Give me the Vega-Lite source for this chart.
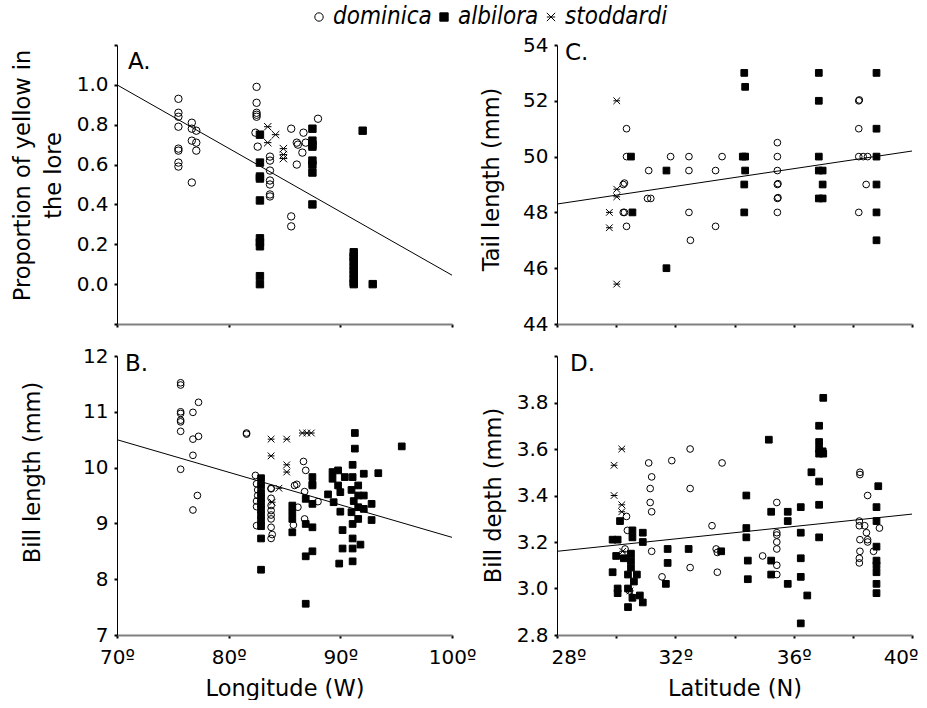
{
  "$schema": "https://vega.github.io/schema/vega-lite/v6.json",
  "padding": {"left": 10, "top": 5, "right": 0, "bottom": 0},
  "bounds": "flush",
  "columns": 2,
  "spacing": {"row": 32, "column": 105},
  "datasets": {
    "pts": [
      {"p":"A","x":75.5,"y":0.93,"s":"dominica"},{"p":"A","x":75.5,"y":0.86,"s":"dominica"},{"p":"A","x":75.5,"y":0.84,"s":"dominica"},{"p":"A","x":75.5,"y":0.79,"s":"dominica"},
      {"p":"A","x":75.5,"y":0.68,"s":"dominica"},{"p":"A","x":75.5,"y":0.67,"s":"dominica"},{"p":"A","x":75.5,"y":0.61,"s":"dominica"},{"p":"A","x":75.5,"y":0.59,"s":"dominica"},
      {"p":"A","x":76.7,"y":0.81,"s":"dominica"},{"p":"A","x":76.7,"y":0.78,"s":"dominica"},{"p":"A","x":76.7,"y":0.72,"s":"dominica"},{"p":"A","x":76.7,"y":0.51,"s":"dominica"},
      {"p":"A","x":77.1,"y":0.77,"s":"dominica"},{"p":"A","x":77.1,"y":0.71,"s":"dominica"},{"p":"A","x":77.1,"y":0.67,"s":"dominica"},
      {"p":"A","x":82.5,"y":0.99,"s":"dominica"},{"p":"A","x":82.5,"y":0.91,"s":"dominica"},{"p":"A","x":82.5,"y":0.86,"s":"dominica"},{"p":"A","x":82.5,"y":0.85,"s":"dominica"},
      {"p":"A","x":82.5,"y":0.84,"s":"dominica"},{"p":"A","x":82.4,"y":0.76,"s":"dominica"},{"p":"A","x":82.6,"y":0.69,"s":"dominica"},
      {"p":"A","x":83.7,"y":0.64,"s":"dominica"},{"p":"A","x":83.7,"y":0.62,"s":"dominica"},{"p":"A","x":83.7,"y":0.57,"s":"dominica"},{"p":"A","x":83.7,"y":0.52,"s":"dominica"},
      {"p":"A","x":83.7,"y":0.5,"s":"dominica"},{"p":"A","x":83.7,"y":0.45,"s":"dominica"},{"p":"A","x":83.7,"y":0.44,"s":"dominica"},
      {"p":"A","x":85.6,"y":0.78,"s":"dominica"},{"p":"A","x":85.6,"y":0.34,"s":"dominica"},{"p":"A","x":85.6,"y":0.29,"s":"dominica"},
      {"p":"A","x":86.1,"y":0.71,"s":"dominica"},{"p":"A","x":86.1,"y":0.6,"s":"dominica"},{"p":"A","x":86.2,"y":0.7,"s":"dominica"},
      {"p":"A","x":86.7,"y":0.76,"s":"dominica"},{"p":"A","x":86.6,"y":0.66,"s":"dominica"},{"p":"A","x":86.9,"y":0.71,"s":"dominica"},{"p":"A","x":88.0,"y":0.83,"s":"dominica"},
      {"p":"A","x":82.8,"y":0.75,"s":"albilora"},{"p":"A","x":82.8,"y":0.61,"s":"albilora"},{"p":"A","x":82.8,"y":0.54,"s":"albilora"},{"p":"A","x":82.8,"y":0.53,"s":"albilora"},
      {"p":"A","x":82.8,"y":0.42,"s":"albilora"},{"p":"A","x":82.8,"y":0.23,"s":"albilora"},{"p":"A","x":82.8,"y":0.21,"s":"albilora"},{"p":"A","x":82.8,"y":0.19,"s":"albilora"},
      {"p":"A","x":82.8,"y":0.04,"s":"albilora"},{"p":"A","x":82.8,"y":0.0,"s":"albilora"},
      {"p":"A","x":87.5,"y":0.78,"s":"albilora"},{"p":"A","x":87.5,"y":0.72,"s":"albilora"},{"p":"A","x":87.5,"y":0.7,"s":"albilora"},{"p":"A","x":87.5,"y":0.69,"s":"albilora"},
      {"p":"A","x":87.5,"y":0.62,"s":"albilora"},{"p":"A","x":87.5,"y":0.6,"s":"albilora"},{"p":"A","x":87.5,"y":0.56,"s":"albilora"},{"p":"A","x":87.5,"y":0.4,"s":"albilora"},
      {"p":"A","x":92.0,"y":0.77,"s":"albilora"},
      {"p":"A","x":91.2,"y":0.16,"s":"albilora"},{"p":"A","x":91.2,"y":0.14,"s":"albilora"},{"p":"A","x":91.2,"y":0.13,"s":"albilora"},{"p":"A","x":91.2,"y":0.11,"s":"albilora"},
      {"p":"A","x":91.2,"y":0.09,"s":"albilora"},{"p":"A","x":91.2,"y":0.07,"s":"albilora"},{"p":"A","x":91.2,"y":0.05,"s":"albilora"},{"p":"A","x":91.2,"y":0.03,"s":"albilora"},
      {"p":"A","x":91.2,"y":0.01,"s":"albilora"},{"p":"A","x":91.2,"y":0.0,"s":"albilora"},{"p":"A","x":92.9,"y":0.0,"s":"albilora"},
      {"p":"A","x":83.5,"y":0.79,"s":"stoddardi"},{"p":"A","x":84.2,"y":0.75,"s":"stoddardi"},{"p":"A","x":83.5,"y":0.71,"s":"stoddardi"},
      {"p":"A","x":84.9,"y":0.68,"s":"stoddardi"},{"p":"A","x":84.9,"y":0.65,"s":"stoddardi"},{"p":"A","x":84.9,"y":0.63,"s":"stoddardi"},

      {"p":"B","x":75.7,"y":11.52,"s":"dominica"},{"p":"B","x":75.7,"y":11.48,"s":"dominica"},{"p":"B","x":75.7,"y":11.0,"s":"dominica"},{"p":"B","x":75.7,"y":10.97,"s":"dominica"},
      {"p":"B","x":75.7,"y":10.85,"s":"dominica"},{"p":"B","x":75.7,"y":10.82,"s":"dominica"},{"p":"B","x":75.7,"y":10.65,"s":"dominica"},{"p":"B","x":75.7,"y":9.97,"s":"dominica"},
      {"p":"B","x":76.8,"y":10.99,"s":"dominica"},{"p":"B","x":76.8,"y":10.51,"s":"dominica"},{"p":"B","x":76.8,"y":10.22,"s":"dominica"},{"p":"B","x":76.8,"y":9.24,"s":"dominica"},
      {"p":"B","x":77.3,"y":11.17,"s":"dominica"},{"p":"B","x":77.3,"y":10.56,"s":"dominica"},{"p":"B","x":77.2,"y":9.5,"s":"dominica"},
      {"p":"B","x":81.6,"y":10.62,"s":"dominica"},{"p":"B","x":81.6,"y":10.6,"s":"dominica"},
      {"p":"B","x":82.4,"y":9.86,"s":"dominica"},{"p":"B","x":82.5,"y":9.71,"s":"dominica"},{"p":"B","x":82.6,"y":9.6,"s":"dominica"},{"p":"B","x":82.6,"y":9.5,"s":"dominica"},
      {"p":"B","x":82.5,"y":9.4,"s":"dominica"},{"p":"B","x":82.5,"y":9.3,"s":"dominica"},{"p":"B","x":82.5,"y":8.96,"s":"dominica"},
      {"p":"B","x":83.8,"y":9.63,"s":"dominica"},{"p":"B","x":83.8,"y":9.45,"s":"dominica"},{"p":"B","x":83.8,"y":9.32,"s":"dominica"},{"p":"B","x":83.8,"y":9.23,"s":"dominica"},
      {"p":"B","x":83.8,"y":9.15,"s":"dominica"},{"p":"B","x":83.8,"y":9.08,"s":"dominica"},{"p":"B","x":83.8,"y":8.93,"s":"dominica"},{"p":"B","x":83.9,"y":8.8,"s":"dominica"},
      {"p":"B","x":83.8,"y":8.73,"s":"dominica"},{"p":"B","x":83.8,"y":9.62,"s":"dominica"},
      {"p":"B","x":85.8,"y":8.97,"s":"dominica"},{"p":"B","x":85.9,"y":9.68,"s":"dominica"},{"p":"B","x":86.1,"y":9.7,"s":"dominica"},{"p":"B","x":86.2,"y":9.29,"s":"dominica"},
      {"p":"B","x":86.7,"y":10.11,"s":"dominica"},{"p":"B","x":86.9,"y":9.95,"s":"dominica"},{"p":"B","x":86.8,"y":9.57,"s":"dominica"},{"p":"B","x":86.8,"y":9.08,"s":"dominica"},
      {"p":"B","x":88.0,"y":9.39,"s":"dominica"},
      {"p":"B","x":83.8,"y":10.51,"s":"stoddardi"},{"p":"B","x":83.8,"y":10.21,"s":"stoddardi"},{"p":"B","x":85.2,"y":10.51,"s":"stoddardi"},{"p":"B","x":85.2,"y":10.05,"s":"stoddardi"},
      {"p":"B","x":85.2,"y":9.92,"s":"stoddardi"},{"p":"B","x":84.5,"y":9.63,"s":"stoddardi"},{"p":"B","x":83.9,"y":9.38,"s":"stoddardi"},
      {"p":"B","x":86.6,"y":10.62,"s":"stoddardi"},{"p":"B","x":87.0,"y":10.62,"s":"stoddardi"},{"p":"B","x":87.4,"y":10.62,"s":"stoddardi"},
      {"p":"B","x":82.9,"y":9.81,"s":"albilora"},{"p":"B","x":82.9,"y":9.68,"s":"albilora"},{"p":"B","x":82.9,"y":9.55,"s":"albilora"},{"p":"B","x":82.9,"y":9.45,"s":"albilora"},
      {"p":"B","x":82.9,"y":9.35,"s":"albilora"},{"p":"B","x":82.9,"y":9.25,"s":"albilora"},{"p":"B","x":82.9,"y":9.15,"s":"albilora"},{"p":"B","x":82.9,"y":9.05,"s":"albilora"},
      {"p":"B","x":82.9,"y":8.95,"s":"albilora"},{"p":"B","x":82.9,"y":8.73,"s":"albilora"},{"p":"B","x":82.9,"y":8.17,"s":"albilora"},
      {"p":"B","x":85.7,"y":9.32,"s":"albilora"},{"p":"B","x":85.7,"y":9.08,"s":"albilora"},{"p":"B","x":85.7,"y":8.84,"s":"albilora"},{"p":"B","x":85.7,"y":9.2,"s":"albilora"},
      {"p":"B","x":86.9,"y":9.44,"s":"albilora"},{"p":"B","x":86.9,"y":8.99,"s":"albilora"},{"p":"B","x":86.9,"y":8.41,"s":"albilora"},{"p":"B","x":86.9,"y":7.56,"s":"albilora"},
      {"p":"B","x":87.5,"y":9.83,"s":"albilora"},{"p":"B","x":87.5,"y":9.68,"s":"albilora"},{"p":"B","x":87.5,"y":9.35,"s":"albilora"},{"p":"B","x":87.5,"y":8.93,"s":"albilora"},
      {"p":"B","x":87.5,"y":8.5,"s":"albilora"},{"p":"B","x":87.5,"y":9.7,"s":"albilora"},{"p":"B","x":88.9,"y":9.52,"s":"albilora"},
      {"p":"B","x":89.3,"y":9.92,"s":"albilora"},{"p":"B","x":89.3,"y":9.8,"s":"albilora"},{"p":"B","x":89.4,"y":9.38,"s":"albilora"},
      {"p":"B","x":89.8,"y":9.95,"s":"albilora"},{"p":"B","x":89.8,"y":9.68,"s":"albilora"},{"p":"B","x":90.0,"y":9.56,"s":"albilora"},
      {"p":"B","x":90.0,"y":9.21,"s":"albilora"},{"p":"B","x":90.2,"y":8.88,"s":"albilora"},{"p":"B","x":90.2,"y":8.55,"s":"albilora"},{"p":"B","x":89.9,"y":8.28,"s":"albilora"},
      {"p":"B","x":90.4,"y":9.83,"s":"albilora"},
      {"p":"B","x":91.1,"y":10.05,"s":"albilora"},{"p":"B","x":91.1,"y":9.83,"s":"albilora"},{"p":"B","x":91.1,"y":8.73,"s":"albilora"},{"p":"B","x":91.1,"y":8.55,"s":"albilora"},
      {"p":"B","x":91.1,"y":8.32,"s":"albilora"},{"p":"B","x":91.1,"y":8.99,"s":"albilora"},{"p":"B","x":91.0,"y":9.6,"s":"albilora"},{"p":"B","x":91.2,"y":9.4,"s":"albilora"},
      {"p":"B","x":91.0,"y":9.2,"s":"albilora"},{"p":"B","x":91.3,"y":10.62,"s":"albilora"},{"p":"B","x":91.3,"y":10.34,"s":"albilora"},
      {"p":"B","x":91.6,"y":9.68,"s":"albilora"},{"p":"B","x":91.6,"y":9.5,"s":"albilora"},{"p":"B","x":91.6,"y":9.29,"s":"albilora"},{"p":"B","x":91.6,"y":9.08,"s":"albilora"},
      {"p":"B","x":91.8,"y":8.62,"s":"albilora"},
      {"p":"B","x":92.1,"y":9.89,"s":"albilora"},{"p":"B","x":92.1,"y":9.5,"s":"albilora"},{"p":"B","x":92.1,"y":9.26,"s":"albilora"},
      {"p":"B","x":92.8,"y":9.35,"s":"albilora"},{"p":"B","x":92.8,"y":9.06,"s":"albilora"},{"p":"B","x":93.4,"y":9.9,"s":"albilora"},{"p":"B","x":95.5,"y":10.38,"s":"albilora"},

      {"p":"C","x":30.35,"y":51,"s":"dominica"},{"p":"C","x":30.35,"y":50,"s":"dominica"},{"p":"C","x":30.24,"y":49,"s":"dominica"},{"p":"C","x":30.28,"y":49.05,"s":"dominica"},
      {"p":"C","x":30.24,"y":48,"s":"dominica"},{"p":"C","x":30.28,"y":48,"s":"dominica"},{"p":"C","x":30.35,"y":47.5,"s":"dominica"},
      {"p":"C","x":31.1,"y":49.5,"s":"dominica"},{"p":"C","x":31.06,"y":48.5,"s":"dominica"},{"p":"C","x":31.17,"y":48.5,"s":"dominica"},{"p":"C","x":31.84,"y":50,"s":"dominica"},
      {"p":"C","x":32.46,"y":50,"s":"dominica"},{"p":"C","x":32.46,"y":49.5,"s":"dominica"},{"p":"C","x":32.46,"y":48,"s":"dominica"},{"p":"C","x":32.51,"y":47,"s":"dominica"},
      {"p":"C","x":33.36,"y":49.5,"s":"dominica"},{"p":"C","x":33.58,"y":50,"s":"dominica"},{"p":"C","x":33.36,"y":47.5,"s":"dominica"},
      {"p":"C","x":35.45,"y":50.5,"s":"dominica"},{"p":"C","x":35.45,"y":50,"s":"dominica"},{"p":"C","x":35.45,"y":49.5,"s":"dominica"},{"p":"C","x":35.45,"y":49,"s":"dominica"},
      {"p":"C","x":35.47,"y":49.03,"s":"dominica"},{"p":"C","x":35.45,"y":48.5,"s":"dominica"},{"p":"C","x":35.47,"y":48.53,"s":"dominica"},{"p":"C","x":35.45,"y":48,"s":"dominica"},
      {"p":"C","x":38.2,"y":52,"s":"dominica"},{"p":"C","x":38.22,"y":52.03,"s":"dominica"},{"p":"C","x":38.2,"y":51,"s":"dominica"},{"p":"C","x":38.2,"y":50,"s":"dominica"},
      {"p":"C","x":38.35,"y":50,"s":"dominica"},{"p":"C","x":38.5,"y":50,"s":"dominica"},{"p":"C","x":38.45,"y":49,"s":"dominica"},{"p":"C","x":38.2,"y":48,"s":"dominica"},
      {"p":"C","x":30.5,"y":50,"s":"albilora"},{"p":"C","x":30.55,"y":48,"s":"albilora"},{"p":"C","x":31.7,"y":49.5,"s":"albilora"},{"p":"C","x":31.7,"y":46,"s":"albilora"},
      {"p":"C","x":34.33,"y":53,"s":"albilora"},{"p":"C","x":34.36,"y":52.5,"s":"albilora"},{"p":"C","x":34.28,"y":50,"s":"albilora"},{"p":"C","x":34.36,"y":50,"s":"albilora"},
      {"p":"C","x":34.36,"y":49.5,"s":"albilora"},{"p":"C","x":34.33,"y":49,"s":"albilora"},{"p":"C","x":34.33,"y":48,"s":"albilora"},
      {"p":"C","x":36.85,"y":53,"s":"albilora"},{"p":"C","x":36.85,"y":52,"s":"albilora"},{"p":"C","x":36.85,"y":50,"s":"albilora"},{"p":"C","x":36.85,"y":49.5,"s":"albilora"},
      {"p":"C","x":36.98,"y":49.5,"s":"albilora"},{"p":"C","x":36.98,"y":49,"s":"albilora"},{"p":"C","x":36.85,"y":48.5,"s":"albilora"},{"p":"C","x":36.98,"y":48.5,"s":"albilora"},
      {"p":"C","x":38.8,"y":53,"s":"albilora"},{"p":"C","x":38.8,"y":51,"s":"albilora"},{"p":"C","x":38.8,"y":50,"s":"albilora"},{"p":"C","x":38.8,"y":49,"s":"albilora"},
      {"p":"C","x":38.8,"y":48,"s":"albilora"},{"p":"C","x":38.8,"y":47,"s":"albilora"},
      {"p":"C","x":30.02,"y":52,"s":"stoddardi"},{"p":"C","x":30.02,"y":48.83,"s":"stoddardi"},{"p":"C","x":30.02,"y":48.56,"s":"stoddardi"},
      {"p":"C","x":29.77,"y":48,"s":"stoddardi"},{"p":"C","x":29.77,"y":47.45,"s":"stoddardi"},{"p":"C","x":30.02,"y":45.43,"s":"stoddardi"},

      {"p":"D","x":30.35,"y":3.31,"s":"dominica"},{"p":"D","x":30.38,"y":3.25,"s":"dominica"},{"p":"D","x":30.3,"y":3.17,"s":"dominica"},{"p":"D","x":30.45,"y":2.99,"s":"dominica"},
      {"p":"D","x":31.1,"y":3.54,"s":"dominica"},{"p":"D","x":31.2,"y":3.48,"s":"dominica"},{"p":"D","x":31.15,"y":3.43,"s":"dominica"},{"p":"D","x":31.15,"y":3.37,"s":"dominica"},
      {"p":"D","x":31.2,"y":3.33,"s":"dominica"},{"p":"D","x":31.2,"y":3.16,"s":"dominica"},{"p":"D","x":31.55,"y":3.05,"s":"dominica"},{"p":"D","x":31.88,"y":3.55,"s":"dominica"},
      {"p":"D","x":32.5,"y":3.6,"s":"dominica"},{"p":"D","x":32.5,"y":3.43,"s":"dominica"},{"p":"D","x":32.5,"y":3.09,"s":"dominica"},{"p":"D","x":33.24,"y":3.27,"s":"dominica"},
      {"p":"D","x":33.38,"y":3.17,"s":"dominica"},{"p":"D","x":33.42,"y":3.155,"s":"dominica"},{"p":"D","x":33.42,"y":3.07,"s":"dominica"},{"p":"D","x":33.58,"y":3.54,"s":"dominica"},
      {"p":"D","x":34.95,"y":3.14,"s":"dominica"},{"p":"D","x":35.43,"y":3.37,"s":"dominica"},{"p":"D","x":35.43,"y":3.24,"s":"dominica"},{"p":"D","x":35.43,"y":3.23,"s":"dominica"},
      {"p":"D","x":35.43,"y":3.2,"s":"dominica"},{"p":"D","x":35.43,"y":3.17,"s":"dominica"},{"p":"D","x":35.43,"y":3.1,"s":"dominica"},{"p":"D","x":35.43,"y":3.06,"s":"dominica"},
      {"p":"D","x":38.24,"y":3.5,"s":"dominica"},{"p":"D","x":38.24,"y":3.49,"s":"dominica"},{"p":"D","x":38.5,"y":3.4,"s":"dominica"},{"p":"D","x":38.22,"y":3.29,"s":"dominica"},
      {"p":"D","x":38.22,"y":3.27,"s":"dominica"},{"p":"D","x":38.4,"y":3.27,"s":"dominica"},{"p":"D","x":38.46,"y":3.24,"s":"dominica"},{"p":"D","x":38.5,"y":3.21,"s":"dominica"},
      {"p":"D","x":38.5,"y":3.2,"s":"dominica"},{"p":"D","x":38.24,"y":3.21,"s":"dominica"},{"p":"D","x":38.9,"y":3.26,"s":"dominica"},{"p":"D","x":38.24,"y":3.16,"s":"dominica"},
      {"p":"D","x":38.22,"y":3.13,"s":"dominica"},{"p":"D","x":38.22,"y":3.11,"s":"dominica"},{"p":"D","x":38.7,"y":3.16,"s":"dominica"},
      {"p":"D","x":29.88,"y":3.07,"s":"albilora"},{"p":"D","x":29.88,"y":3.21,"s":"albilora"},{"p":"D","x":30.05,"y":3.21,"s":"albilora"},{"p":"D","x":30.05,"y":3.0,"s":"albilora"},
      {"p":"D","x":30.05,"y":2.98,"s":"albilora"},{"p":"D","x":30.13,"y":3.29,"s":"albilora"},{"p":"D","x":30.0,"y":3.14,"s":"albilora"},{"p":"D","x":30.4,"y":3.06,"s":"albilora"},
      {"p":"D","x":30.5,"y":3.15,"s":"albilora"},{"p":"D","x":30.55,"y":3.25,"s":"albilora"},{"p":"D","x":30.55,"y":3.22,"s":"albilora"},{"p":"D","x":30.5,"y":3.12,"s":"albilora"},
      {"p":"D","x":30.5,"y":3.09,"s":"albilora"},{"p":"D","x":30.7,"y":3.06,"s":"albilora"},{"p":"D","x":30.9,"y":3.24,"s":"albilora"},{"p":"D","x":30.9,"y":3.2,"s":"albilora"},
      {"p":"D","x":30.4,"y":3.0,"s":"albilora"},{"p":"D","x":30.4,"y":2.92,"s":"albilora"},{"p":"D","x":30.55,"y":2.96,"s":"albilora"},{"p":"D","x":30.8,"y":2.97,"s":"albilora"},
      {"p":"D","x":30.9,"y":2.94,"s":"albilora"},{"p":"D","x":30.26,"y":3.13,"s":"albilora"},{"p":"D","x":30.6,"y":3.03,"s":"albilora"},
      {"p":"D","x":31.68,"y":3.02,"s":"albilora"},{"p":"D","x":31.74,"y":3.17,"s":"albilora"},{"p":"D","x":31.74,"y":3.11,"s":"albilora"},{"p":"D","x":32.45,"y":3.17,"s":"albilora"},
      {"p":"D","x":33.55,"y":3.16,"s":"albilora"},{"p":"D","x":34.4,"y":3.4,"s":"albilora"},{"p":"D","x":34.4,"y":3.26,"s":"albilora"},{"p":"D","x":34.4,"y":3.22,"s":"albilora"},
      {"p":"D","x":34.45,"y":3.12,"s":"albilora"},{"p":"D","x":34.45,"y":3.04,"s":"albilora"},{"p":"D","x":35.16,"y":3.64,"s":"albilora"},{"p":"D","x":35.24,"y":3.33,"s":"albilora"},
      {"p":"D","x":35.24,"y":3.12,"s":"albilora"},{"p":"D","x":35.24,"y":3.06,"s":"albilora"},{"p":"D","x":35.8,"y":3.33,"s":"albilora"},{"p":"D","x":35.8,"y":3.29,"s":"albilora"},
      {"p":"D","x":35.8,"y":3.02,"s":"albilora"},{"p":"D","x":36.24,"y":3.35,"s":"albilora"},{"p":"D","x":36.24,"y":3.24,"s":"albilora"},{"p":"D","x":36.24,"y":3.13,"s":"albilora"},
      {"p":"D","x":36.24,"y":3.05,"s":"albilora"},{"p":"D","x":36.24,"y":2.85,"s":"albilora"},{"p":"D","x":36.46,"y":2.97,"s":"albilora"},{"p":"D","x":36.6,"y":3.5,"s":"albilora"},
      {"p":"D","x":36.86,"y":3.7,"s":"albilora"},{"p":"D","x":36.86,"y":3.63,"s":"albilora"},{"p":"D","x":36.86,"y":3.6,"s":"albilora"},{"p":"D","x":36.98,"y":3.59,"s":"albilora"},
      {"p":"D","x":36.86,"y":3.58,"s":"albilora"},{"p":"D","x":37.0,"y":3.58,"s":"albilora"},{"p":"D","x":36.86,"y":3.46,"s":"albilora"},{"p":"D","x":36.86,"y":3.36,"s":"albilora"},
      {"p":"D","x":36.86,"y":3.22,"s":"albilora"},{"p":"D","x":37.0,"y":3.82,"s":"albilora"},
      {"p":"D","x":38.86,"y":3.44,"s":"albilora"},{"p":"D","x":38.8,"y":3.35,"s":"albilora"},{"p":"D","x":38.8,"y":3.29,"s":"albilora"},{"p":"D","x":38.8,"y":3.18,"s":"albilora"},
      {"p":"D","x":38.8,"y":3.12,"s":"albilora"},{"p":"D","x":38.8,"y":3.1,"s":"albilora"},{"p":"D","x":38.8,"y":3.07,"s":"albilora"},{"p":"D","x":38.8,"y":3.02,"s":"albilora"},
      {"p":"D","x":38.8,"y":2.98,"s":"albilora"},
      {"p":"D","x":30.19,"y":3.6,"s":"stoddardi"},{"p":"D","x":29.93,"y":3.53,"s":"stoddardi"},{"p":"D","x":29.93,"y":3.4,"s":"stoddardi"},{"p":"D","x":30.19,"y":3.36,"s":"stoddardi"},
      {"p":"D","x":30.19,"y":3.33,"s":"stoddardi"},{"p":"D","x":30.22,"y":3.16,"s":"stoddardi"},{"p":"D","x":30.47,"y":2.99,"s":"stoddardi"}
    ],
    "fits": [
      {"p":"A","x":70,"y":1.0},{"p":"A","x":100,"y":0.045},
      {"p":"B","x":70,"y":10.5},{"p":"B","x":100,"y":8.75},
      {"p":"C","x":28,"y":48.3},{"p":"C","x":40,"y":50.2},
      {"p":"D","x":28,"y":3.16},{"p":"D","x":40,"y":3.32}
    ]
  },
  "concat": [
    {
      "width": 335, "height": 279,
      "title": {"text": "A.", "dx": 11, "dy": 21},
      "layer": [
        {
          "data": {"name": "pts"},
          "transform": [{"filter": "datum.p === 'A'"}],
          "mark": {"type": "point", "filled": true, "strokeWidth": 1, "opacity": 1, "size": 55},
          "encoding": {
            "x": {"field": "x", "type": "quantitative", "scale": {"domain": [70, 100]},
                  "axis": {"values": [70, 80, 90, 100], "tickCount": 20, "labels": false, "title": null}},
            "y": {"field": "y", "type": "quantitative", "scale": {"domain": [-0.2, 1.2]},
                  "axis": {"values": [-0.2, 0, 0.2, 0.4, 0.6, 0.8, 1, 1.2], "tickCount": 20, "labelOverlap": false,
                           "labelExpr": "datum.value < -0.1 || datum.value > 1.1 ? '' : format(datum.value, '.1f')",
                           "title": ["Proportion of yellow in", "the lore"], "titleLineHeight": 31, "titleX": -83, "titleY": 130}},
            "shape": {"field": "s", "type": "nominal", "title": null,
                      "scale": {"domain": ["dominica", "albilora", "stoddardi"], "range": ["circle", "square", "M-1,-1L1,1M-1,1L1,-1M-1,0L1,0"]}},
            "fill": {"field": "s", "type": "nominal", "title": null,
                     "scale": {"domain": ["dominica", "albilora", "stoddardi"], "range": ["transparent", "black", "transparent"]}},
            "stroke": {"field": "s", "type": "nominal", "title": null,
                       "scale": {"domain": ["dominica", "albilora", "stoddardi"], "range": ["black", "black", "black"]}}
          }
        },
        {
          "data": {"name": "fits"},
          "transform": [{"filter": "datum.p === 'A'"}],
          "mark": {"type": "line", "color": "black", "strokeWidth": 1},
          "encoding": {"x": {"field": "x", "type": "quantitative"}, "y": {"field": "y", "type": "quantitative"}}
        }
      ]
    },
    {
      "width": 355, "height": 279,
      "title": {"text": "C.", "dx": 8, "dy": 12},
      "layer": [
        {
          "data": {"name": "pts"},
          "transform": [{"filter": "datum.p === 'C'"}],
          "mark": {"type": "point", "filled": true, "strokeWidth": 1, "opacity": 1, "size": 45},
          "encoding": {
            "x": {"field": "x", "type": "quantitative", "scale": {"domain": [28, 40]},
                  "axis": {"values": [28, 30, 32, 34, 36, 38, 40], "tickCount": 20, "labels": false, "title": null}},
            "y": {"field": "y", "type": "quantitative", "scale": {"domain": [44, 54]},
                  "axis": {"values": [44, 46, 48, 50, 52, 54], "tickCount": 20, "format": "d", "labelOverlap": false, "title": "Tail length (mm)", "titleX": -54, "titleY": 134}},
            "shape": {"field": "s", "type": "nominal", "title": null,
                      "scale": {"domain": ["dominica", "albilora", "stoddardi"], "range": ["circle", "square", "M-1,-1L1,1M-1,1L1,-1M-1,0L1,0"]}},
            "fill": {"field": "s", "type": "nominal", "title": null,
                     "scale": {"domain": ["dominica", "albilora", "stoddardi"], "range": ["transparent", "black", "transparent"]}},
            "stroke": {"field": "s", "type": "nominal", "title": null,
                       "scale": {"domain": ["dominica", "albilora", "stoddardi"], "range": ["black", "black", "black"]}}
          }
        },
        {
          "data": {"name": "fits"},
          "transform": [{"filter": "datum.p === 'C'"}],
          "mark": {"type": "line", "color": "black", "strokeWidth": 1},
          "encoding": {"x": {"field": "x", "type": "quantitative"}, "y": {"field": "y", "type": "quantitative"}}
        }
      ]
    },
    {
      "width": 335, "height": 279,
      "title": {"text": "B.", "dx": 8, "dy": 12},
      "layer": [
        {
          "data": {"name": "pts"},
          "transform": [{"filter": "datum.p === 'B'"}],
          "mark": {"type": "point", "filled": true, "strokeWidth": 1, "opacity": 1, "size": 45},
          "encoding": {
            "x": {"field": "x", "type": "quantitative", "scale": {"domain": [70, 100]},
                  "axis": {"values": [70, 80, 90, 100], "tickCount": 20, "labelOverlap": false, "labelPadding": 9, "labelExpr": "datum.value + 'º'", "title": "Longitude (W)", "titlePadding": 10}},
            "y": {"field": "y", "type": "quantitative", "scale": {"domain": [7, 12]},
                  "axis": {"values": [7, 8, 9, 10, 11, 12], "tickCount": 20, "format": "d", "labelOverlap": false, "title": "Bill length (mm)", "titleX": -73, "titleY": 116}},
            "shape": {"field": "s", "type": "nominal", "title": null,
                      "scale": {"domain": ["dominica", "albilora", "stoddardi"], "range": ["circle", "square", "M-1,-1L1,1M-1,1L1,-1M-1,0L1,0"]}},
            "fill": {"field": "s", "type": "nominal", "title": null,
                     "scale": {"domain": ["dominica", "albilora", "stoddardi"], "range": ["transparent", "black", "transparent"]}},
            "stroke": {"field": "s", "type": "nominal", "title": null,
                       "scale": {"domain": ["dominica", "albilora", "stoddardi"], "range": ["black", "black", "black"]}}
          }
        },
        {
          "data": {"name": "fits"},
          "transform": [{"filter": "datum.p === 'B'"}],
          "mark": {"type": "line", "color": "black", "strokeWidth": 1},
          "encoding": {"x": {"field": "x", "type": "quantitative"}, "y": {"field": "y", "type": "quantitative"}}
        }
      ]
    },
    {
      "width": 355, "height": 279,
      "title": {"text": "D.", "dx": 13, "dy": 12},
      "layer": [
        {
          "data": {"name": "pts"},
          "transform": [{"filter": "datum.p === 'D'"}],
          "mark": {"type": "point", "filled": true, "strokeWidth": 1, "opacity": 1, "size": 45},
          "encoding": {
            "x": {"field": "x", "type": "quantitative", "scale": {"domain": [28, 40]},
                  "axis": {"values": [28, 30, 32, 34, 36, 38, 40], "tickCount": 20, "labelOverlap": false, "labelFlush": true, "labelFlushOffset": 6, "labelPadding": 9,
                           "labelExpr": "datum.value % 4 === 0 ? datum.value + 'º' : ''", "title": "Latitude (N)", "titlePadding": 10}},
            "y": {"field": "y", "type": "quantitative", "scale": {"domain": [2.8, 4.0]},
                  "axis": {"values": [2.8, 3.0, 3.2, 3.4, 3.6, 3.8, 4.0], "tickCount": 20, "labelOverlap": false,
                           "labelExpr": "datum.value > 3.9 ? '' : format(datum.value, '.1f')",
                           "title": "Bill depth (mm)", "titleX": -52, "titleY": 139}},
            "shape": {"field": "s", "type": "nominal", "title": null,
                      "scale": {"domain": ["dominica", "albilora", "stoddardi"], "range": ["circle", "square", "M-1,-1L1,1M-1,1L1,-1M-1,0L1,0"]}},
            "fill": {"field": "s", "type": "nominal", "title": null,
                     "scale": {"domain": ["dominica", "albilora", "stoddardi"], "range": ["transparent", "black", "transparent"]}},
            "stroke": {"field": "s", "type": "nominal", "title": null,
                       "scale": {"domain": ["dominica", "albilora", "stoddardi"], "range": ["black", "black", "black"]}}
          }
        },
        {
          "data": {"name": "fits"},
          "transform": [{"filter": "datum.p === 'D'"}],
          "mark": {"type": "line", "color": "black", "strokeWidth": 1},
          "encoding": {"x": {"field": "x", "type": "quantitative"}, "y": {"field": "y", "type": "quantitative"}}
        }
      ]
    }
  ],
  "resolve": {
    "scale": {"x": "independent", "y": "independent", "shape": "shared", "fill": "shared", "stroke": "shared"},
    "legend": {"shape": "shared", "fill": "shared", "stroke": "shared"}
  },
  "config": {
    "font": "DejaVu Sans",
    "view": {"stroke": null},
    "axis": {
      "grid": false,
      "labelFont": "DejaVu Sans", "labelFontSize": 20, "labelColor": "black",
      "titleFont": "DejaVu Sans", "titleFontSize": 22.5, "titleFontWeight": "normal", "titleColor": "black",
      "tickColor": "black", "tickSize": 3, "tickWidth": 2,
      "labelPadding": 6, "labelFlush": false, "labelOverlap": false,
      "domainColor": "black"
    },
    "axisX": {"domainColor": "#808080", "domainWidth": 2, "labelPadding": 7},
    "axisY": {"domainWidth": 1},
    "legend": {
      "orient": "none", "legendX": 190, "legendY": -40, "direction": "horizontal", "padding": 0, "offset": 0,
      "labelFont": "DejaVu Sans Condensed", "labelFontStyle": "italic", "labelFontSize": 24, "labelColor": "black", "labelLimit": 0,
      "symbolSize": 70, "symbolStrokeColor": "black", "symbolStrokeWidth": 1,
      "labelOffset": 2, "columnPadding": 0
    },
    "title": {"font": "DejaVu Sans", "fontSize": 23, "fontWeight": "normal", "color": "black", "anchor": "start", "frame": "group", "offset": -18}
  }
}
